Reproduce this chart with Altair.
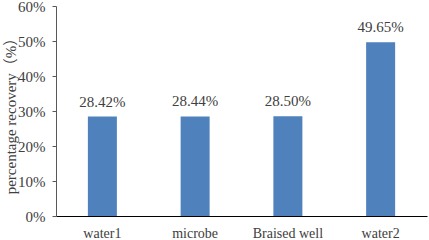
import altair as alt
import pandas as pd

categories = ["water1", "microbe", "Braised well", "water2"]
values = [0.2842, 0.2844, 0.2850, 0.4965]
value_labels = ["28.42%", "28.44%", "28.50%", "49.65%"]
y_ticks = [0, 0.1, 0.2, 0.3, 0.4, 0.5, 0.6]

df = pd.DataFrame({"cat": categories, "val": values, "lab": value_labels})

FONT = "'Liberation Serif', 'Noto Sans CJK SC', serif"
TXT = "#404040"

x = alt.X(
    "cat:N",
    sort=categories,
    scale=alt.Scale(paddingInner=0, paddingOuter=0),
    axis=alt.Axis(
        title=None,
        labelAngle=0,
        ticks=False,
        domainColor="#000000",
        domainWidth=1,
        labelFont=FONT,
        labelFontSize=14,
        labelColor=TXT,
        labelBaseline="alphabetic",
        labelPadding=21,
        grid=False,
    ),
)

y = alt.Y(
    "val:Q",
    scale=alt.Scale(domain=[0, 0.6], nice=False),
    axis=alt.Axis(
        title="percentage recovery（%）",
        values=y_ticks,
        format=".0%",
        grid=False,
        labelOverlap=False,
        domainColor="#595959",
        tickColor="#595959",
        tickSize=4,
        labelFont=FONT,
        labelFontSize=15,
        labelColor=TXT,
        labelPadding=7,
        titleFont=FONT,
        titleFontSize=15,
        titleFontWeight="normal",
        titleColor=TXT,
        titleAngle=270,
        titleX=-46,
        titleY=106,
        titleBaseline="middle",
        titleAlign="center",
    ),
)

bars = alt.Chart(df).mark_bar(size=29, color="#4F81BD").encode(x=x, y=y)
text = alt.Chart(df).mark_text(
    baseline="alphabetic", dy=-10, font=FONT, fontSize=15, color=TXT
).encode(x=x, y=y, text="lab:N")

chart = (
    alt.layer(bars, text)
    .properties(
        width=371,
        height=210,
        autosize=alt.AutoSizeParams(type="none"),
        padding={"left": 56, "top": 6, "right": 2, "bottom": 24},
        background="white",
    )
    .configure(font=FONT)
    .configure_axis(labelFont=FONT, labelOverlap=False)
    .configure_text(font=FONT)
    .configure_view(stroke=None)
)

chart.save("out.html", embed_options={"renderer": "svg", "actions": False})
